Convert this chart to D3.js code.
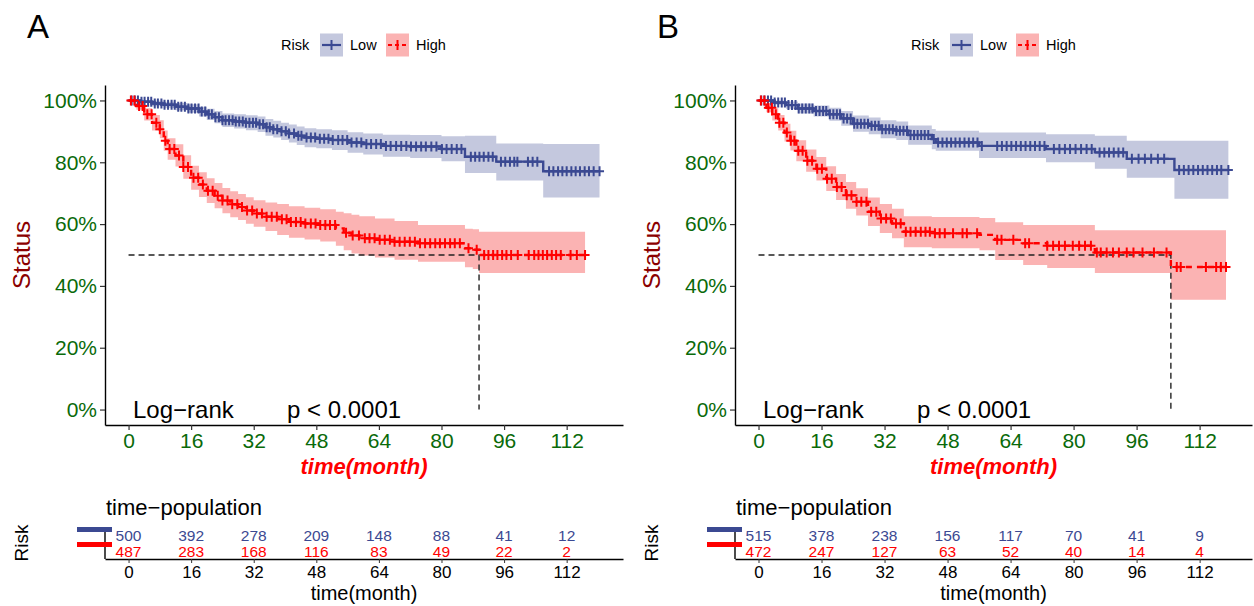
<!DOCTYPE html>
<meta charset="utf-8">
<script src="https://d3js.org/d3.v7.min.js"></script>
<style>
  body { margin: 0; background: #fff; }
  text { font-family: "Liberation Sans", Arial, sans-serif; }
</style>
<div id="chart"></div>
<script>
// shared ticks and labels
const timeTicks = [0, 16, 32, 48, 64, 80, 96, 112];
const survTicks = [0, 20, 40, 60, 80, 100];
const groupNames = ["Low", "High"];
const colors = {Low: "#3B4992", High: "#FF0000"};
const bandColors = {Low: "#c4c8de", High: "#fbb3b3"};

// ---- panel A : Kaplan-Meier steps (month, % surviving) ----
const lowA_time  = [0, 3, 6, 9, 12, 15, 18, 20, 22, 24, 27, 30, 33, 35, 37, 39, 41, 43, 45, 48, 52, 56, 60, 65, 72, 80, 86, 94, 106];
const lowA_surv  = [100, 99.6, 99.0, 98.6, 98.0, 97.4, 96.4, 95.5, 94.6, 93.6, 93.2, 92.8, 92.3, 91.3, 90.7, 90.0, 89.3, 88.6, 88.0, 87.6, 87.2, 86.4, 85.9, 85.3, 85.1, 84.3, 81.8, 80.2, 77.1];
const lowA_upper = [100, 100, 99.9, 99.6, 99.2, 98.8, 98.0, 97.3, 96.6, 95.8, 95.5, 95.2, 94.8, 94.0, 93.4, 92.8, 92.2, 91.6, 91.0, 90.7, 90.4, 89.7, 89.3, 88.9, 88.8, 88.4, 88.6, 86.1, 85.9];
const lowA_lower = [100, 99.2, 98.1, 97.6, 96.8, 96.0, 94.8, 93.7, 92.6, 91.4, 90.9, 90.4, 89.8, 88.6, 88.0, 87.2, 86.4, 85.6, 84.9, 84.5, 84.0, 83.1, 82.5, 81.8, 81.4, 80.3, 76.5, 74.1, 68.6];
const lowA_end = 120.4;
const lowA_censor = [0.8, 1.6, 2.4, 3.3, 4.1, 5.0, 5.8, 6.7, 7.5, 8.4, 9.2, 10.1, 11.0, 11.8, 12.7, 13.5, 14.4, 15.3, 16.1, 17.0, 17.9, 18.7, 19.6, 20.5, 21.3, 22.2, 23.1, 24.0, 24.8, 25.7, 26.6, 27.4, 28.3, 29.2, 30.0, 30.9, 31.8, 32.6, 33.5, 34.4, 35.3, 36.1, 37.0, 38.0, 39.1, 40.2, 41.0, 42.3, 43.4, 44.2, 45.5, 46.6, 47.7, 48.9, 50.0, 51.1, 52.2, 53.6, 54.7, 55.9, 57.0, 58.3, 59.5, 60.8, 62.0, 63.3, 64.5, 65.8, 67.0, 68.4, 69.7, 71.0, 72.2, 73.5, 74.8, 76.0, 77.4, 78.7, 80.1, 81.3, 82.6, 83.9, 85.1, 87.5, 88.6, 89.7, 90.8, 92.0, 93.1, 95.2, 96.3, 97.5, 98.6, 99.4, 102.1, 103.3, 104.5, 107.5, 108.6, 109.8, 110.9, 112.0, 113.2, 114.3, 115.4, 116.6, 117.7, 118.9, 120.4];

const highA_time  = [0, 2, 4, 6, 8, 9, 10, 12, 14, 16, 18, 20, 22, 24, 26, 28, 30, 32, 35, 38, 41, 45, 49, 53, 55, 57, 59, 63, 68, 74, 86, 88, 89.6];
const highA_surv  = [100, 98.2, 95.5, 92.8, 90.7, 87.0, 84.3, 82.2, 78.5, 75.0, 72.8, 70.8, 69.2, 67.6, 66.4, 65.5, 64.4, 63.4, 62.4, 61.6, 60.7, 60.2, 59.7, 58.6, 57.2, 56.3, 55.4, 54.9, 54.3, 53.8, 52.2, 51.7, 50.0];
const highA_upper = [100, 99.4, 97.5, 95.3, 93.6, 90.3, 87.8, 85.8, 82.3, 78.9, 76.8, 74.8, 73.3, 71.7, 70.6, 69.7, 68.7, 67.7, 67.0, 66.5, 65.8, 65.3, 64.8, 64.0, 63.5, 63.0, 62.5, 61.8, 61.0, 59.7, 58.5, 58.3, 57.5];
const highA_lower = [100, 97.0, 93.5, 90.3, 87.8, 83.7, 80.8, 78.6, 74.7, 71.1, 68.8, 66.8, 65.1, 63.5, 62.2, 61.3, 60.1, 59.1, 57.8, 56.5, 55.6, 55.0, 54.4, 53.0, 51.5, 50.5, 49.8, 49.2, 48.5, 47.8, 46.0, 45.5, 44.2];
const highA_end = 116.7;
const highA_censor = [0.6, 1.5, 2.7, 3.6, 4.8, 5.9, 7.1, 8.0, 9.4, 10.5, 11.7, 12.9, 14.0, 15.2, 16.6, 17.8, 19.0, 20.3, 21.5, 22.8, 24.0, 25.3, 26.5, 27.8, 29.0, 30.3, 31.6, 32.8, 34.1, 35.3, 36.6, 37.9, 39.2, 40.4, 41.5, 42.8, 44.0, 45.2, 46.6, 47.8, 49.0, 50.3, 51.5, 52.8, 55.6, 57.3, 58.9, 60.4, 61.6, 62.9, 64.2, 65.5, 66.8, 68.0, 69.3, 70.6, 71.9, 73.2, 74.5, 75.8, 77.1, 78.4, 79.6, 80.9, 82.2, 83.4, 84.7, 86.9, 89.0, 90.9, 92.0, 93.2, 94.3, 95.5, 96.6, 97.8, 99.5, 102.3, 103.7, 104.8, 105.9, 107.0, 108.2, 109.3, 110.5, 113.0, 114.6, 116.7];
const medianA = 89.6;
const riskLowA  = [500, 392, 278, 209, 148, 88, 41, 12];
const riskHighA = [487, 283, 168, 116, 83, 49, 22, 2];

// ---- panel B ----
const lowB_time  = [0, 4, 7, 10, 14, 18, 21, 24, 28, 31, 35, 38, 44, 45, 56, 73, 85.4, 93.5, 105.6];
const lowB_surv  = [100, 99.3, 98.5, 97.4, 96.6, 95.5, 94.2, 92.5, 91.8, 90.7, 90.2, 88.8, 87.5, 86.4, 85.3, 84.3, 83.2, 81.1, 77.5];
const lowB_upper = [100, 100, 99.7, 99.0, 98.4, 97.6, 96.6, 95.1, 94.5, 93.6, 93.2, 91.9, 90.8, 90.2, 89.6, 89.1, 88.6, 87.0, 87.0];
const lowB_lower = [100, 98.6, 97.3, 95.8, 94.8, 93.4, 91.8, 89.9, 89.1, 87.8, 87.2, 85.7, 84.2, 83.7, 81.4, 80.0, 77.9, 75.0, 68.2];
const lowB_end = 119.3;
const lowB_censor = [0.7, 1.5, 2.4, 3.2, 4.1, 5.0, 5.9, 6.7, 7.6, 8.5, 9.4, 10.2, 11.1, 12.0, 12.9, 13.7, 14.6, 15.5, 16.4, 17.2, 18.1, 19.0, 19.9, 20.7, 21.6, 22.5, 23.4, 24.3, 25.1, 26.0, 26.9, 27.8, 28.7, 29.6, 30.5, 31.4, 32.3, 33.2, 34.1, 35.0, 35.9, 36.8, 37.7, 38.6, 39.5, 40.4, 41.3, 42.2, 43.1, 44.5, 45.6, 46.7, 47.8, 48.9, 50.0, 51.1, 52.3, 53.4, 54.5, 55.6, 56.7, 60.6, 61.8, 63.0, 64.2, 65.4, 66.6, 67.8, 69.0, 70.2, 71.4, 72.6, 75.0, 76.4, 77.8, 79.1, 80.5, 81.9, 83.3, 84.6, 86.6, 87.8, 89.0, 90.2, 91.4, 92.6, 94.8, 96.5, 98.1, 99.7, 101.4, 103.0, 106.8, 108.0, 109.2, 110.4, 111.6, 112.8, 114.0, 115.2, 116.4, 117.5, 119.3];

const highB_time  = [0, 2, 3.5, 5, 6.6, 8.1, 9.6, 12.1, 14.7, 17.2, 19.7, 22.2, 24.8, 27.8, 30.8, 33.9, 36.9, 44, 56.1, 60.1, 67.2, 73.3, 85.4, 104.7];
const highB_surv  = [100, 97.6, 95.5, 92.8, 89.6, 87.0, 83.7, 80.5, 77.9, 74.7, 72.0, 69.3, 67.2, 64.0, 61.8, 60.2, 57.5, 57.0, 56.5, 54.9, 53.8, 53.0, 50.8, 46.1];
const highB_upper = [100, 99.0, 97.5, 95.3, 92.5, 90.2, 87.1, 84.1, 81.7, 78.7, 76.2, 73.6, 71.6, 68.6, 66.5, 65.0, 62.5, 62.3, 62.0, 60.6, 59.7, 59.7, 58.0, 58.0];
const highB_lower = [100, 96.2, 93.5, 90.3, 86.7, 83.8, 80.3, 76.9, 74.1, 70.7, 67.8, 65.0, 62.8, 59.4, 57.1, 55.4, 52.5, 52.2, 51.5, 48.4, 46.8, 45.8, 44.2, 35.5];
const highB_end = 118.7;
const highB_censor = [0.6, 1.5, 2.5, 3.4, 4.4, 5.3, 6.3, 7.2, 8.2, 9.1, 10.1, 11.2, 12.4, 13.6, 14.9, 16.1, 17.4, 18.6, 19.9, 21.1, 22.4, 23.6, 24.9, 26.1, 27.4, 28.6, 29.9, 31.1, 32.4, 33.6, 34.9, 36.1, 37.4, 38.6, 39.9, 41.2, 42.4, 43.5, 44.8, 46.0, 47.3, 49.4, 51.8, 52.9, 55.5, 60.6, 61.7, 64.7, 67.7, 68.7, 73.3, 74.8, 76.3, 77.8, 79.8, 81.4, 82.9, 84.4, 85.9, 86.9, 88.4, 90.0, 91.5, 93.5, 95.2, 97.5, 100.4, 103.6, 106.2, 107.2, 113.6, 116.2, 117.4, 118.7];
const medianB = 104.7;
const riskLowB  = [515, 378, 238, 156, 117, 70, 41, 9];
const riskHighB = [472, 247, 127, 63, 52, 40, 14, 4];

function curve(time, surv, upper, lower, end, censor) {
  return {time, surv, upper, lower, end, censor};
}

const panels = [
  {label: "A", dx: 0, xDomain: [-6.02, 126.4], right: 623, median: medianA,
   curves: {Low: curve(lowA_time, lowA_surv, lowA_upper, lowA_lower, lowA_end, lowA_censor),
            High: curve(highA_time, highA_surv, highA_upper, highA_lower, highA_end, highA_censor)},
   risk: {Low: riskLowA, High: riskHighA}},
  {label: "B", dx: 630, xDomain: [-5.97, 125.3], right: 622, median: medianB,
   curves: {Low: curve(lowB_time, lowB_surv, lowB_upper, lowB_lower, lowB_end, lowB_censor),
            High: curve(highB_time, highB_surv, highB_upper, highB_lower, highB_end, highB_censor)},
   risk: {Low: riskLowB, High: riskHighB}}
];

const svg = d3.select("#chart").append("svg")
    .attr("width", 1254)
    .attr("height", 606);

function stepValue(c, t) {
  const i = Math.max(0, d3.bisectRight(c.time, t) - 1);
  return c.surv[i];
}

panels.forEach(function(p) {
  const g = svg.append("g").attr("transform", "translate(" + p.dx + ",0)");

  const x = d3.scaleLinear().domain(p.xDomain).range([105, p.right]);
  const y = d3.scaleLinear().domain([-5, 105]).range([425, 85]);

  // panel letter
  g.append("text").attr("x", 27).attr("y", 38)
      .style("font-size", "33px").text(p.label);

  // legend
  const leg = g.append("g").attr("transform", "translate(0,45)");
  leg.append("text").attr("x", 281).attr("y", 5).style("font-size", "14.5px").text("Risk");
  groupNames.forEach(function(name, i) {
    const bx = 320 + i * 66;
    leg.append("rect").attr("x", bx).attr("y", -11.5).attr("width", 23).attr("height", 23)
        .attr("fill", bandColors[name]);
    leg.append("line").attr("x1", bx + 2).attr("x2", bx + 21).attr("y1", 0).attr("y2", 0)
        .attr("stroke", colors[name]).attr("stroke-width", 2.2)
        .attr("stroke-dasharray", name === "High" ? "4,3" : null);
    leg.append("line").attr("x1", bx + 11.5).attr("x2", bx + 11.5).attr("y1", -5).attr("y2", 5)
        .attr("stroke", colors[name]).attr("stroke-width", 2);
    leg.append("text").attr("x", bx + 30).attr("y", 5).style("font-size", "14.5px").text(name);
  });

  // confidence bands
  const area = d3.area().curve(d3.curveStepAfter)
      .x(d => x(d.t)).y0(d => y(d.lo)).y1(d => y(d.hi));
  const line = d3.line().curve(d3.curveStepAfter)
      .x(d => x(d.t)).y(d => y(d.s));

  groupNames.forEach(function(name) {
    const c = p.curves[name];
    const pts = c.time.map((t, i) => ({t: t, s: c.surv[i], lo: c.lower[i], hi: c.upper[i]}));
    const last = pts[pts.length - 1];
    pts.push({t: c.end, s: last.s, lo: last.lo, hi: last.hi});
    c.pts = pts;
    g.append("path").datum(pts).attr("d", area).attr("fill", bandColors[name]);
  });

  // median survival
  g.append("path")
      .attr("d", "M" + x(0) + "," + y(50) + "H" + x(p.median) + "V" + y(0))
      .attr("fill", "none").attr("stroke", "#222").attr("stroke-width", 1.4)
      .attr("stroke-dasharray", "6,4");

  // survival curves + censor marks
  groupNames.forEach(function(name) {
    const c = p.curves[name];
    g.append("path").datum(c.pts).attr("d", line)
        .attr("fill", "none").attr("stroke", colors[name]).attr("stroke-width", 2.4)
        .attr("stroke-dasharray", name === "High" ? "6,5" : null);
    g.append("g").selectAll("path")
      .data(c.censor)
      .enter()
      .append("path")
        .attr("d", function(t) {
          const cx = x(t), cy = y(stepValue(c, t));
          return "M" + (cx - 4.5) + "," + cy + "H" + (cx + 4.5) + "M" + cx + "," + (cy - 5) + "V" + (cy + 5);
        })
        .attr("stroke", colors[name]).attr("stroke-width", 2);
  });

  // axes
  const xAxis = g.append("g").attr("transform", "translate(0,425)")
      .call(d3.axisBottom(x).tickValues(timeTicks).tickSize(5).tickSizeOuter(0));
  const yAxis = g.append("g").attr("transform", "translate(105,0)")
      .call(d3.axisLeft(y).tickValues(survTicks).tickFormat(d => d + "%").tickSize(5).tickSizeOuter(0));
  [xAxis, yAxis].forEach(function(a) {
    a.attr("font-family", null).attr("font-size", null);
    a.select(".domain").attr("stroke", "#000").attr("stroke-width", 1.4);
    a.selectAll(".tick line").attr("stroke", "#333").attr("stroke-width", 1.2);
    a.selectAll(".tick text").attr("fill", "#0a6a0a").style("font-size", "21px");
  });

  g.append("text")
      .attr("transform", "translate(30,255) rotate(-90)")
      .attr("text-anchor", "middle")
      .attr("fill", "#8B0000").style("font-size", "24px").text("Status");
  g.append("text")
      .attr("x", (105 + p.right) / 2).attr("y", 474)
      .attr("text-anchor", "middle").attr("fill", "#FF0000")
      .style("font-size", "22px").style("font-weight", "bold").style("font-style", "italic")
      .text("time(month)");

  g.append("text").attr("x", 133).attr("y", 418).style("font-size", "24px").text("Log\u2212rank");
  g.append("text").attr("x", 287).attr("y", 418).style("font-size", "24px").text("p < 0.0001");

  // risk table
  g.append("text").attr("x", 106).attr("y", 515).style("font-size", "22px").text("time\u2212population");
  g.append("text")
      .attr("transform", "translate(28,543) rotate(-90)")
      .attr("text-anchor", "middle").style("font-size", "19px").text("Risk");

  const tAxis = g.append("g").attr("transform", "translate(0,559)")
      .call(d3.axisBottom(x).tickValues(timeTicks).tickSize(4).tickSizeOuter(0));
  tAxis.attr("font-family", null).attr("font-size", null);
  tAxis.select(".domain").attr("stroke", "#000").attr("stroke-width", 1.4);
  tAxis.selectAll(".tick line").attr("stroke", "#333");
  tAxis.selectAll(".tick text").attr("fill", "#000").style("font-size", "17px");

  g.append("line").attr("x1", 105).attr("x2", 105).attr("y1", 531).attr("y2", 559)
      .attr("stroke", "#000").attr("stroke-width", 1.4);

  groupNames.forEach(function(name, i) {
    g.append("rect").attr("x", 77).attr("y", 527 + i * 15).attr("width", 35).attr("height", 5)
        .attr("fill", colors[name]);
    g.append("g").selectAll("text")
      .data(p.risk[name])
      .enter()
      .append("text")
        .attr("x", (d, j) => x(timeTicks[j]))
        .attr("y", 541 + i * 16)
        .attr("text-anchor", "middle")
        .attr("fill", colors[name])
        .style("font-size", "15.5px")
        .text(d => d);
  });

  g.append("text")
      .attr("x", (105 + p.right) / 2).attr("y", 600)
      .attr("text-anchor", "middle").style("font-size", "20px").text("time(month)");
});
</script>
